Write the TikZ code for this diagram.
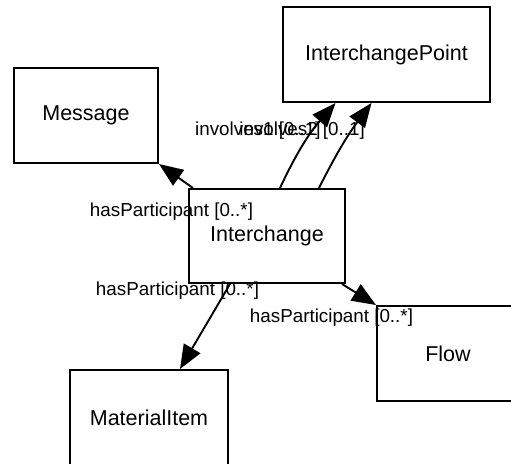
\documentclass[tikz,border=0pt]{standalone}
\usepackage{fontspec}
\setmainfont{Liberation Sans}
\usetikzlibrary{arrows.meta}
\begin{document}
\begin{tikzpicture}[x=1pt,y=-1pt,
  cls/.style={draw,line width=2pt,rectangle,inner sep=0pt,font=\fontsize{21.5}{24}\selectfont},
  lbl/.style={inner sep=0pt,font=\fontsize{18.8}{21}\selectfont},
  rel/.style={line width=1.9pt,-{Triangle[length=24pt,width=19pt]}}]
\useasboundingbox (0,0) rectangle (511,463);
\clip (0,0) rectangle (511,463);
\node[cls,minimum width=144pt,minimum height=95pt] (msg) at (86,115.5) {Message};
\node[cls,minimum width=207pt,minimum height=95pt] (ip) at (386.5,54.5) {InterchangePoint};
\node[cls,minimum width=156pt,minimum height=94pt] (inter) at (267,236) {Interchange};
\node[cls,minimum width=142pt,minimum height=95pt] (flow) at (448,353.5) {Flow};
\node[cls,minimum width=158pt,minimum height=95pt] (mat) at (149,417.5) {MaterialItem};
\draw[rel] ([xshift=5pt]inter.north west) -- (msg.south east);
\draw[rel] ([xshift=13pt]inter.north) to[bend left=8] ([xshift=-51pt]ip.south);
\draw[rel] ([xshift=52pt]inter.north) to[bend left=5] ([xshift=-15pt]ip.south);
\draw[rel] ([xshift=-37pt]inter.south) -- ([xshift=31pt]mat.north);
\draw[rel] ([xshift=-4pt]inter.south east) -- (flow.north west);
\node[lbl] (l1) at (171.5,212) {hasParticipant [0..*]};
\node[lbl,anchor=west] (l2) at (195,131) {involves1 [0..1]};
\node[lbl,anchor=east] (l3) at (365,131) {involves2 [0..1]};
\node[lbl] (l4) at (177.5,291) {hasParticipant [0..*]};
\node[lbl] (l5) at (331.5,318) {hasParticipant [0..*]};
\end{tikzpicture}
\end{document}
